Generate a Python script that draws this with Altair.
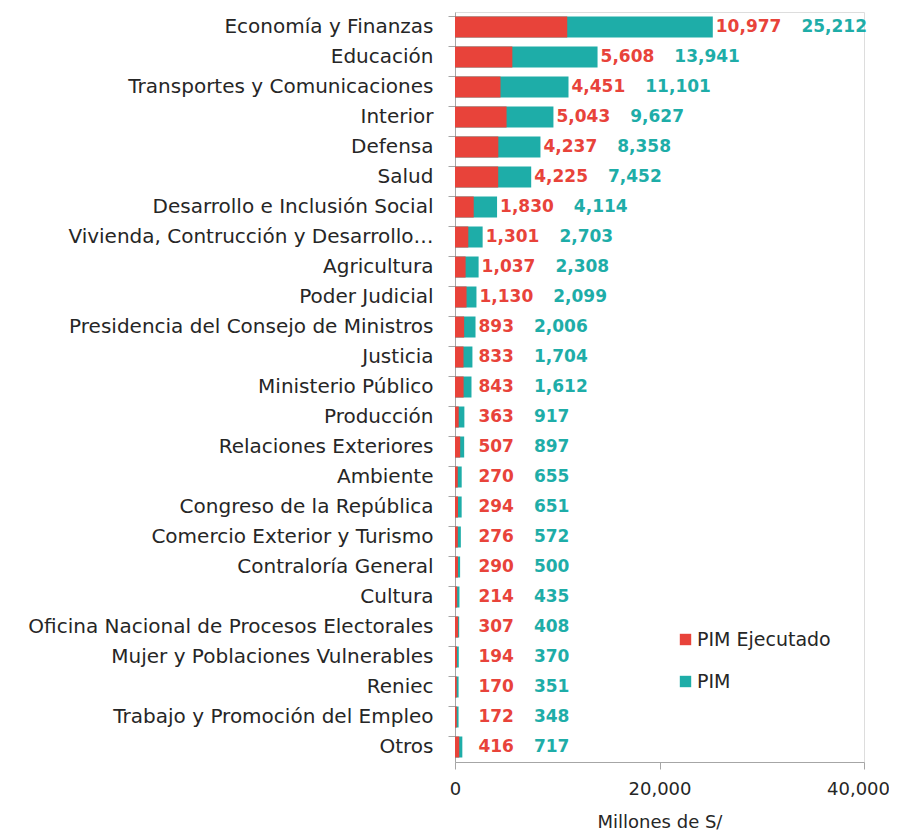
import altair as alt
import pandas as pd

categorias = [
    "Economía y Finanzas", "Educación", "Transportes y Comunicaciones", "Interior",
    "Defensa", "Salud", "Desarrollo e Inclusión Social",
    "Vivienda, Contrucción y Desarrollo…", "Agricultura", "Poder Judicial",
    "Presidencia del Consejo de Ministros", "Justicia", "Ministerio Público",
    "Producción", "Relaciones Exteriores", "Ambiente", "Congreso de la República",
    "Comercio Exterior y Turismo", "Contraloría General", "Cultura",
    "Oficina Nacional de Procesos Electorales", "Mujer y Poblaciones Vulnerables",
    "Reniec", "Trabajo y Promoción del Empleo", "Otros",
]
pim_ejecutado = [10977, 5608, 4451, 5043, 4237, 4225, 1830, 1301, 1037, 1130, 893, 833,
                 843, 363, 507, 270, 294, 276, 290, 214, 307, 194, 170, 172, 416]
pim = [25212, 13941, 11101, 9627, 8358, 7452, 4114, 2703, 2308, 2099, 2006, 1704,
       1612, 917, 897, 655, 651, 572, 500, 435, 408, 370, 351, 348, 717]
x_ticks = [0, 20000, 40000]

RED = "#E8433A"
TEAL = "#1EADA8"
TXT = "#262626"
FONT = "DejaVu Sans"

W, H = 409, 750
XMAX = 40000
k = W / XMAX  # px per unit

def text_w(s, size=17):
    digits = sum(c.isdigit() for c in s)
    commas = s.count(",")
    return digits * 0.696 * size + commas * 0.38 * size

wide = pd.DataFrame({"cat": categorias, "ej": pim_ejecutado, "pim": pim})
wide["ej_lbl"] = wide["ej"].map(lambda v: f"{v:,}")
wide["pim_lbl"] = wide["pim"].map(lambda v: f"{v:,}")
wide["red_x"] = wide["pim"].clip(lower=2000)
wide["teal_x"] = wide["red_x"] + wide["ej_lbl"].map(lambda s: (3 + text_w(s) + 20) / k)

long = pd.concat([
    pd.DataFrame({"cat": categorias, "serie": "PIM", "valor": pim}),
    pd.DataFrame({"cat": categorias, "serie": "PIM Ejecutado", "valor": pim_ejecutado}),
], ignore_index=True)

xscale = alt.Scale(domain=[0, XMAX], nice=False)
yenc = alt.Y("cat:N", sort=categorias, title=None,
             scale=alt.Scale(paddingInner=0.3, paddingOuter=0.15),
             axis=alt.Axis(labelFontSize=20, labelColor=TXT, labelFont=FONT,
                           labelLimit=0, tickSize=7, labelPadding=15,
                           bandPosition=0, domainColor="#A6A6A6", tickColor="#A6A6A6"))

bars = alt.Chart(long).mark_bar().encode(
    x=alt.X("valor:Q", scale=xscale, stack=None, title="Millones de S/",
            axis=alt.Axis(values=x_ticks, format=",d", grid=False, labelFontSize=18,
                          labelColor=TXT, labelFont=FONT, titleFont=FONT, labelFlush=False,
                          labelOffset={"condition": {"test": "datum.value >= 40000", "value": -6},
                                       "value": 0},
                          titleFontSize=18, titleFontWeight="normal", titleColor=TXT,
                          tickSize=7, labelPadding=11, titlePadding=15,
                          domainColor="#A6A6A6", tickColor="#A6A6A6")),
    y=yenc,
    color=alt.Color("serie:N", scale=alt.Scale(domain=["PIM Ejecutado", "PIM"], range=[RED, TEAL]),
                    legend=alt.Legend(title=None, orient="none", legendX=221, legendY=618,
                                      labelFontSize=19, labelFont=FONT, labelColor=TXT,
                                      symbolType="square", symbolSize=130,
                                      symbolStrokeWidth=0, rowPadding=22, labelOffset=2)),
)

red_txt = alt.Chart(wide).mark_text(align="left", baseline="middle", dx=3, fontSize=17,
                                    fontWeight="bold", font=FONT, color=RED).encode(
    x=alt.X("red_x:Q", scale=xscale), y=alt.Y("cat:N", sort=categorias), text="ej_lbl:N")

teal_txt = alt.Chart(wide).mark_text(align="left", baseline="middle", fontSize=17,
                                     fontWeight="bold", font=FONT, color=TEAL).encode(
    x=alt.X("teal_x:Q", scale=xscale), y=alt.Y("cat:N", sort=categorias), text="pim_lbl:N")

chart = alt.layer(bars, red_txt, teal_txt).properties(
    width=W, height=H,
    autosize=alt.AutoSizeParams(type="none"),
    padding={"left": 447, "top": 4, "right": 25, "bottom": 72},
).configure_view(stroke=None).configure(background="white")

chart.save("out.html", embed_options={"renderer": "svg", "actions": False})
